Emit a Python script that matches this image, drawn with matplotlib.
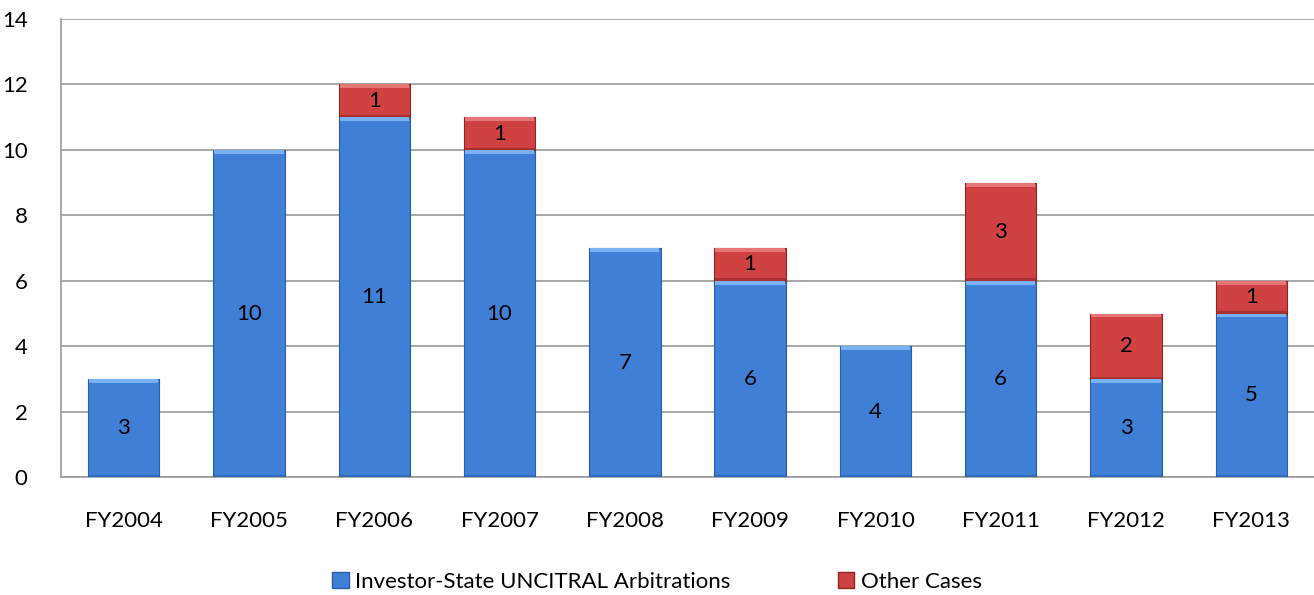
import numpy as np
from matplotlib import pyplot as plt
from matplotlib.patches import Patch

years = ["FY2004", "FY2005", "FY2006", "FY2007", "FY2008",
         "FY2009", "FY2010", "FY2011", "FY2012", "FY2013"]
uncitral = [3, 10, 11, 10, 7, 6, 4, 6, 3, 5]
other = [0, 0, 1, 1, 0, 1, 0, 3, 2, 1]

blue = "#3f80d6"
blue_hi = "#78b2f2"
blue_lo = "#2a5da6"
red = "#d04242"
red_hi = "#e67676"
red_lo = "#8e2424"

plt.rcParams['font.family'] = ['Lato', 'DejaVu Sans']

fig = plt.figure(figsize=(13.14, 5.95), dpi=100)
ax = fig.add_axes([0.0464, 0.198, 0.9536, 0.77])

x = np.arange(len(years))
w = 0.57
edge = 0.12


def bevel_bar(bottoms, heights, main, hi, lo):
    for xi, b, h in zip(x, bottoms, heights):
        if h == 0:
            continue
        ax.bar(xi, h, w, bottom=b, color=main, edgecolor=lo, linewidth=0.8, zorder=3)
        # light top edge and dark bottom edge to mimic the bevel
        ax.bar(xi, edge, w * 0.97, bottom=b + h - edge, color=hi, linewidth=0, zorder=4)
        ax.bar(xi, edge * 0.6, w, bottom=b, color=lo, linewidth=0, zorder=4, alpha=0.6)


bevel_bar([0] * len(x), uncitral, blue, blue_hi, blue_lo)
bevel_bar(uncitral, other, red, red_hi, red_lo)

for xi, u, o in zip(x, uncitral, other):
    ax.text(xi, u / 2, str(u), ha='center', va='center', fontsize=16, zorder=5)
    if o:
        ax.text(xi, u + o / 2, str(o), ha='center', va='center', fontsize=16, zorder=5)

ax.set_xlim(-0.5, 9.5)
ax.set_ylim(0, 14)
ax.set_yticks(range(0, 15, 2))
ax.set_xticks(x)
ax.set_xticklabels(years)
ax.tick_params(axis='both', labelsize=16, length=0)
ax.tick_params(axis='x', pad=24)
ax.tick_params(axis='y', pad=24)
ax.grid(axis='y', color='#9a9a9a', linewidth=1.2, zorder=0)
ax.set_axisbelow(True)
for s in ['top', 'right']:
    ax.spines[s].set_visible(False)
for s in ['left', 'bottom']:
    ax.spines[s].set_color('#9a9a9a')
    ax.spines[s].set_linewidth(1.2)

handles = [Patch(facecolor=blue, edgecolor=blue_lo),
           Patch(facecolor=red, edgecolor=red_lo)]
fig.legend(handles, ["Investor-State UNCITRAL Arbitrations", "Other Cases"],
           loc='center', bbox_to_anchor=(0.5, 0.022), ncol=2, frameon=False,
           fontsize=16, handlelength=0.75, handleheight=0.75, handletextpad=0.3,
           columnspacing=4.8)

fig.savefig("out.png", dpi=100)
